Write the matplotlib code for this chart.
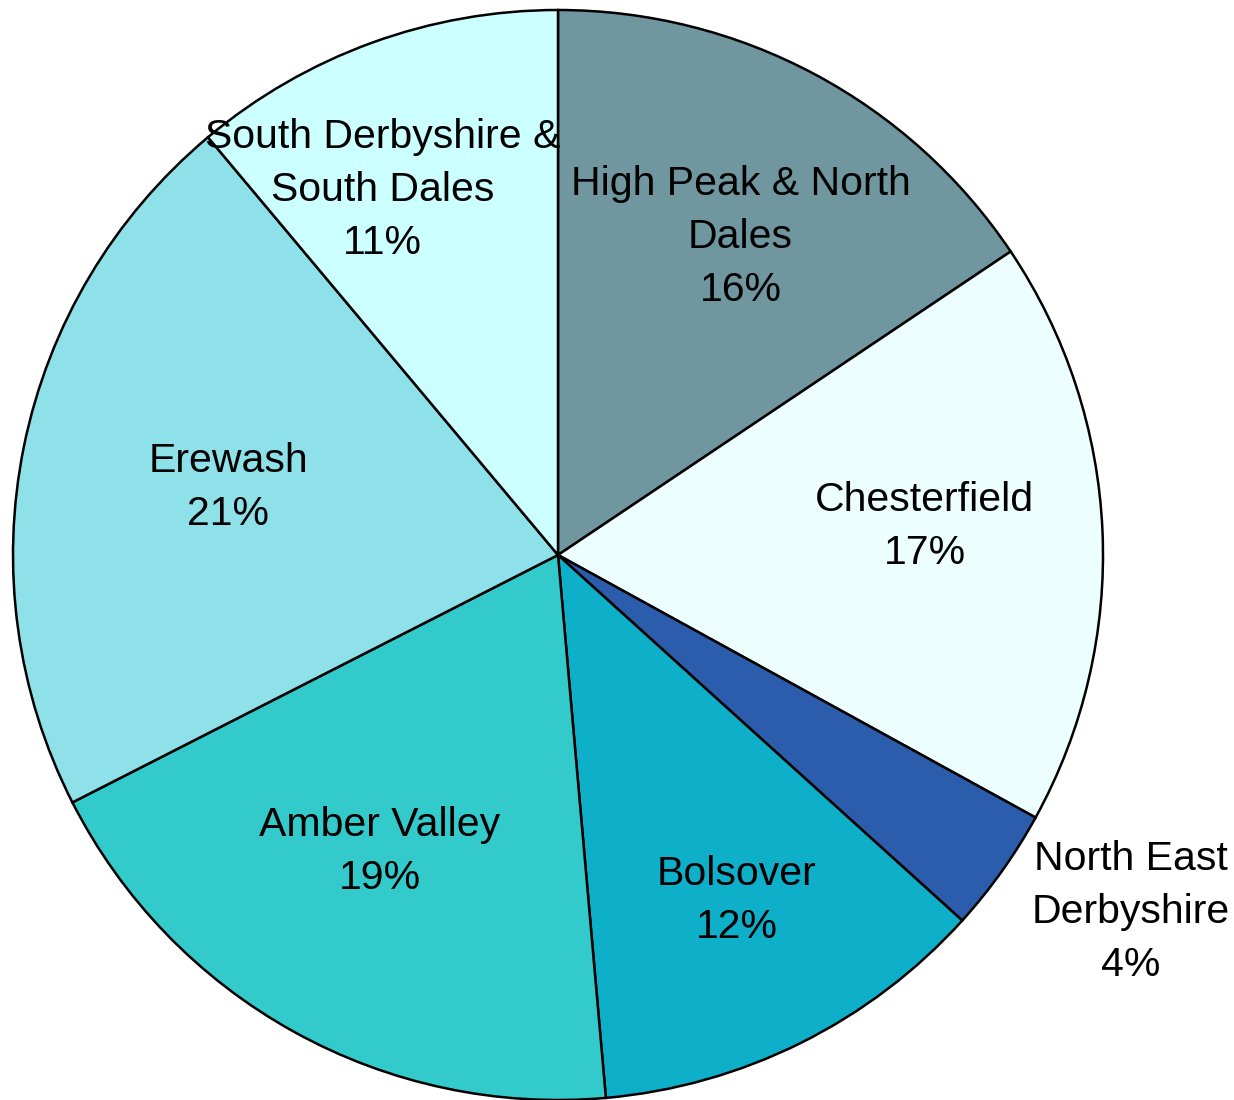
import numpy as np
import matplotlib.pyplot as plt

districts = ['High Peak & North\nDales', 'Chesterfield', 'North East\nDerbyshire',
             'Bolsover', 'Amber Valley', 'Erewash', 'South Derbyshire &\nSouth Dales']
shares = [15.6, 17.4, 3.7, 11.9, 18.9, 21.4, 11.1]
colors = ['#7097A0', '#EDFEFE', '#2C5DAD', '#0EAFC9', '#33CACB', '#8EE1E8', '#CCFFFF']

# label placement: radius (fraction of pie radius) and clockwise angle nudge in degrees
label_r = [0.672, 0.675, 1.239, 0.713, 0.635, 0.618, 0.744]
label_nudge = [1.8, -1.9, -3.5, -0.9, 2.0, 0.0, -5.7]

plt.rcParams['font.family'] = ['Liberation Sans', 'DejaVu Sans']

fig = plt.figure(figsize=(12.34, 11), dpi=100)
ax = fig.add_axes([0, 0, 1, 1])

wedges, _ = ax.pie(shares, colors=colors, startangle=90, counterclock=False,
                   wedgeprops=dict(edgecolor='black', linewidth=1.8))

total = sum(shares)
for w, name, v, r, nudge in zip(wedges, districts, shares, label_r, label_nudge):
    ang = np.deg2rad((w.theta1 + w.theta2) / 2 - nudge)
    ax.text(r * np.cos(ang), r * np.sin(ang), f"{name}\n{round(100 * v / total):.0f}%",
            ha='center', va='center', multialignment='center',
            fontsize=29.5, linespacing=1.5)

ax.set_xlim(-558 / 545, (1234 - 558) / 545)
ax.set_ylim(-(1100 - 555) / 545, 555 / 545)
ax.set_aspect('auto')
ax.axis('off')

fig.savefig('out.png', dpi=100)
